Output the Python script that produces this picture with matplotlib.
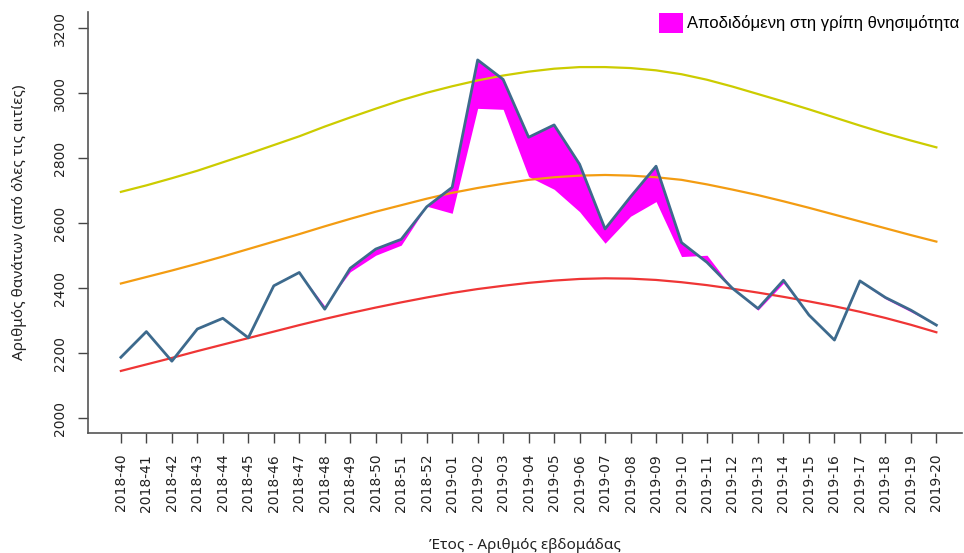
import numpy as np
import matplotlib
matplotlib.use("Agg")
import matplotlib.pyplot as plt
from matplotlib.patches import Patch

weeks = ["2018-40", "2018-41", "2018-42", "2018-43", "2018-44", "2018-45", "2018-46",
         "2018-47", "2018-48", "2018-49", "2018-50", "2018-51", "2018-52", "2019-01",
         "2019-02", "2019-03", "2019-04", "2019-05", "2019-06", "2019-07", "2019-08",
         "2019-09", "2019-10", "2019-11", "2019-12", "2019-13", "2019-14", "2019-15",
         "2019-16", "2019-17", "2019-18", "2019-19", "2019-20"]

# observed deaths (all causes)
observed = [2187, 2266, 2175, 2274, 2307, 2247, 2407, 2448, 2335, 2461, 2520, 2550,
            2650, 2710, 3102, 3042, 2864, 2902, 2781, 2582, 2681, 2775, 2540, 2479,
            2399, 2337, 2424, 2317, 2240, 2422, 2371, 2332, 2286]

# observed minus flu-attributable deaths (lower edge of the magenta area)
without_flu = [2187, 2266, 2175, 2274, 2307, 2247, 2407, 2448, 2345, 2450, 2501, 2532,
               2652, 2630, 2953, 2950, 2743, 2704, 2635, 2538, 2621, 2666, 2497, 2501,
               2399, 2332, 2415, 2317, 2240, 2420, 2367, 2327, 2286]

baseline = [2145, 2165, 2185, 2206, 2226, 2246, 2266, 2286, 2305, 2323, 2340, 2356,
            2371, 2385, 2397, 2407, 2416, 2423, 2428, 2430, 2429, 2425, 2418, 2409,
            2398, 2386, 2373, 2359, 2344, 2327, 2308, 2287, 2264]

threshold_low = [2414, 2434, 2454, 2475, 2497, 2520, 2543, 2566, 2590, 2613, 2635, 2655,
                 2675, 2693, 2708, 2721, 2733, 2741, 2746, 2748, 2746, 2741, 2733, 2719,
                 2703, 2686, 2667, 2647, 2626, 2605, 2584, 2563, 2543]

threshold_high = [2696, 2716, 2738, 2761, 2787, 2813, 2840, 2867, 2897, 2925, 2952, 2978,
                  3001, 3021, 3039, 3054, 3066, 3075, 3080, 3080, 3077, 3070, 3058, 3041,
                  3020, 2997, 2974, 2950, 2925, 2900, 2876, 2854, 2833]

yticks = [2000, 2200, 2400, 2600, 2800, 3000, 3200]

x = np.arange(len(weeks))

fig = plt.figure(figsize=(9.64, 5.53), dpi=100)
ax = fig.add_axes([0.0913, 0.217, 0.907, 0.761])

ax.fill_between(x, observed, without_flu, color="#ff00ff", linewidth=0, zorder=1)
ax.plot(x, threshold_high, color="#cccc00", lw=1.6, zorder=2)
ax.plot(x, threshold_low, color="#f39c12", lw=1.6, zorder=2)
ax.plot(x, baseline, color="#ef3535", lw=1.6, zorder=2)
ax.plot(x, observed, color="#3d6a8d", lw=2.0, zorder=3)

ax.set_xlim(-1.29, 33.02)
ax.set_ylim(1954, 3249)

ax.set_xticks(x)
ax.set_xticklabels(weeks, rotation=90, fontsize=10, color="#222222")
ax.set_yticks(yticks)
ax.set_yticklabels([str(v) for v in yticks], rotation=90, va="center",
                   fontsize=10, color="#222222")
ax.tick_params(axis="both", length=7, width=1.0, color="#444444", pad=8)

for side in ["top", "right"]:
    ax.spines[side].set_visible(False)
for side in ["left", "bottom"]:
    ax.spines[side].set_color("#555555")
    ax.spines[side].set_linewidth(1.2)

ax.set_ylabel("Αριθμός θανάτων (από όλες τις αιτίες)", fontsize=11,
              family="Noto Sans", labelpad=19, color="#222222")
ax.set_xlabel("Έτος - Αριθμός εβδομάδας", fontsize=11, family="Noto Sans",
              labelpad=19, color="#222222")

handle = Patch(facecolor="#ff00ff", edgecolor="none")
fig.legend([handle], ["Αποδιδόμενη στη γρίπη θνησιμότητα"], loc="upper right",
           bbox_to_anchor=(1.0, 0.985), frameon=False,
           prop={"family": "Liberation Sans", "size": 12},
           handlelength=1.4, handleheight=1.4, handletextpad=0.25,
           borderpad=0.2, borderaxespad=0.1)

fig.savefig("out.png", dpi=100)
